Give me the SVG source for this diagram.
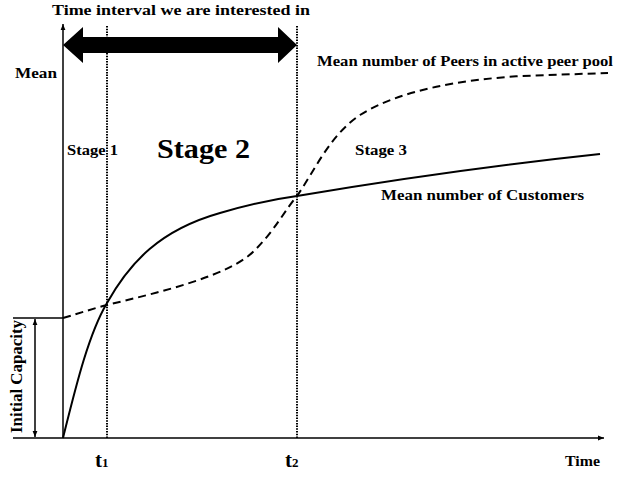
<svg xmlns="http://www.w3.org/2000/svg" width="619" height="477" viewBox="0 0 619 477">
<style>
text{font-family:"Liberation Serif","Times New Roman",serif;font-weight:bold;fill:#000}
.ax{stroke:#000;stroke-width:1.5;fill:none}
.dot{stroke:#000;stroke-width:2;stroke-dasharray:1.5,1.2;fill:none}
.solid{stroke:#000;stroke-width:2;fill:none}
.dash{stroke:#000;stroke-width:2;stroke-dasharray:8,5;fill:none}
</style>
<defs>
<marker id="ah" viewBox="0 0 10 10" refX="10" refY="5" markerWidth="6" markerHeight="6" markerUnits="userSpaceOnUse" orient="auto-start-reverse">
<path d="M0,1 L10,5 L0,9 Z" fill="#000"/>
</marker>
</defs>
<g id="axes">
<line class="ax" x1="63" y1="438" x2="63" y2="24" marker-end="url(#ah)"/>
<line class="ax" x1="13" y1="438" x2="604" y2="438" marker-end="url(#ah)"/>
<line class="ax" x1="13" y1="318" x2="63" y2="318"/>
<line class="ax" x1="35" y1="319" x2="35" y2="437" marker-start="url(#ah)" marker-end="url(#ah)"/>
</g>
<g id="guides">
<line class="dot" x1="107" y1="26" x2="107" y2="438"/>
<line class="dot" x1="297" y1="26" x2="297" y2="438"/>
</g>
<g id="interval-arrow">
<path d="M63,45 L83,27 L83,37 L278,37 L278,27 L297,45 L278,63 L278,53 L83,53 L83,63 Z" fill="#000"/>
</g>
<g id="curves">
<path id="customers" class="solid" d="M63,438 C75,390 88,335 107,303 C130,262 160,230 220,213 C250,204 275,199 297,196 Q450,170 600,154"/>
<path id="peers" class="dash" d="M63,318 C80,313 95,308 107,305 C160,292 230,276 255,250 C275,230 285,210 297,196 C315,170 330,135 360,115 C400,90 460,80 520,76 L608,73"/>
</g>
<g id="labels">
<text x="52" y="15" font-size="15.5" textLength="258" lengthAdjust="spacingAndGlyphs">Time interval we are interested in</text>
<text x="15" y="78" font-size="15" textLength="42" lengthAdjust="spacingAndGlyphs">Mean</text>
<text x="317" y="66" font-size="15" textLength="296" lengthAdjust="spacingAndGlyphs">Mean number of Peers in active peer pool</text>
<text x="67" y="155" font-size="15" textLength="51" lengthAdjust="spacingAndGlyphs">Stage 1</text>
<text x="157" y="158" font-size="28" textLength="93" lengthAdjust="spacingAndGlyphs">Stage 2</text>
<text x="355" y="155" font-size="15" textLength="52" lengthAdjust="spacingAndGlyphs">Stage 3</text>
<text x="381" y="200" font-size="15" textLength="203" lengthAdjust="spacingAndGlyphs">Mean number of Customers</text>
<text x="95" y="467" font-size="21">t<tspan font-size="13">1</tspan></text>
<text x="285" y="467" font-size="21">t<tspan font-size="13">2</tspan></text>
<text x="565" y="466" font-size="15" textLength="35" lengthAdjust="spacingAndGlyphs">Time</text>
<text transform="translate(22,376.5) rotate(-90)" text-anchor="middle" font-size="17" textLength="113" lengthAdjust="spacingAndGlyphs">Initial Capacity</text>
</g>
</svg>
